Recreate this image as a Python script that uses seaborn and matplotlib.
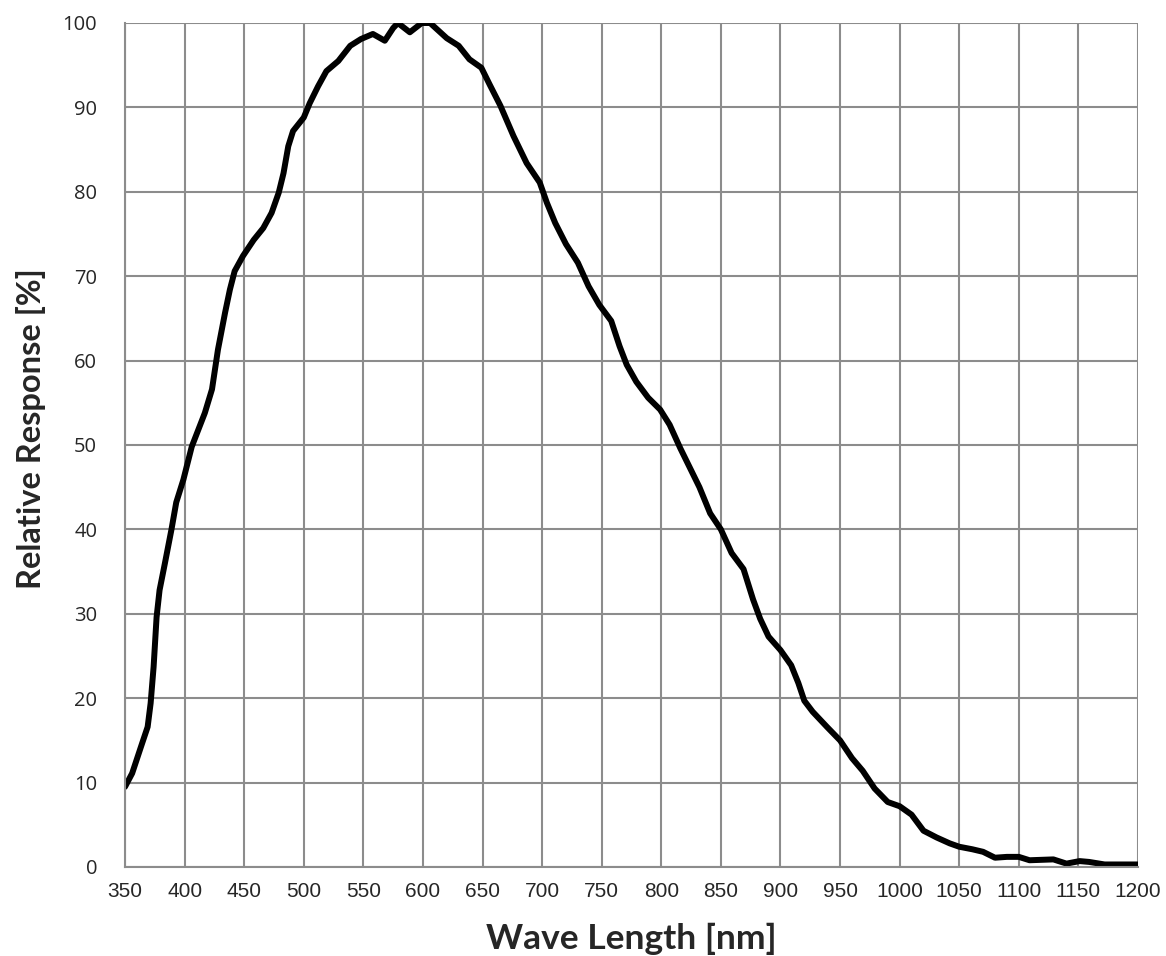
import numpy as np
import pandas as pd
import matplotlib
matplotlib.use("Agg")
import matplotlib.pyplot as plt
import seaborn as sns

wave_length = [350, 356, 364, 369, 371.5, 374, 376.5, 379, 383.5, 389, 393, 399,
               406, 417, 423, 428, 434, 438, 442, 449, 458, 466, 473, 479, 483,
               487, 491, 500, 505, 512, 519, 529, 539, 548, 558, 568, 575, 579,
               589, 599, 606, 620, 630, 639, 649, 656, 665, 676, 687, 698, 704,
               711, 720, 730, 739, 748, 758, 765, 771, 779, 789, 799, 807, 816,
               832, 841, 850, 859, 869, 877, 883, 890, 900, 909, 915, 920, 927,
               939, 950, 960, 969, 979, 990, 1000, 1010, 1020, 1031, 1042, 1050,
               1061, 1070, 1080, 1090, 1100, 1109, 1129, 1140, 1151, 1159, 1172,
               1200]
response = [9.5, 11.1, 14.5, 16.6, 19.4, 23.7, 29.6, 32.8, 36.0, 40.0, 43.2, 45.9,
            49.8, 53.8, 56.6, 61.3, 65.7, 68.4, 70.6, 72.4, 74.3, 75.7, 77.5, 79.9, 82.2,
            85.4, 87.2, 88.8, 90.5, 92.5, 94.3, 95.5, 97.3, 98.1, 98.7, 97.9, 99.4, 100.0,
            98.9, 100.0, 100.0, 98.2, 97.3, 95.7, 94.7, 92.7, 90.2, 86.6, 83.4, 81.1, 78.7,
            76.3, 73.8, 71.6, 68.8, 66.6, 64.7, 61.7, 59.5, 57.5, 55.6, 54.2, 52.4, 49.6,
            45.0, 41.9, 40.0, 37.2, 35.3, 31.7, 29.4, 27.3, 25.7, 23.9, 21.8, 19.7, 18.4,
            16.6, 15.0, 12.9, 11.4, 9.3, 7.7, 7.2, 6.2, 4.3, 3.5, 2.8, 2.4,
            2.1, 1.8, 1.1, 1.2, 1.2, 0.8, 0.9, 0.4, 0.7, 0.6, 0.3,
            0.3]
x_ticks = list(range(350, 1201, 50))
y_ticks = list(range(0, 101, 10))

df = pd.DataFrame({"wl": wave_length, "resp": response})

sns.set_style("white")
plt.rcParams['font.family'] = ['Open Sans', 'DejaVu Sans']

fig = plt.figure(figsize=(11.66, 9.56), dpi=100)
ax = fig.add_axes([125/1166, 1 - 867/956, (1138-125)/1166, (867-23)/956])

sns.lineplot(data=df, x="wl", y="resp", ax=ax, color="black", linewidth=4.3)
ax.lines[0].set_solid_joinstyle("round")

ax.set_xlim(350, 1200)
ax.set_ylim(0, 100)
ax.set_xticks(x_ticks, labels=[str(t) for t in x_ticks], fontsize=15,
              family=['Liberation Sans Narrow', 'Liberation Sans', 'DejaVu Sans'])
ax.set_yticks(y_ticks, labels=[str(t) for t in y_ticks], fontsize=14.5)
ax.grid(True, color="#8c8c8c", linewidth=1.5)
ax.set_axisbelow(True)
for s in ["top", "right"]:
    ax.spines[s].set_visible(False)
for s in ["left", "bottom"]:
    ax.spines[s].set_color("#8c8c8c")
    ax.spines[s].set_linewidth(1.5)

ax.tick_params(axis="x", direction="out", length=5, width=1.5, color="#8c8c8c", pad=6)
ax.tick_params(axis="y", direction="out", length=5, width=1.5, color="#8c8c8c", pad=15)

ax.set_xlabel("Wave Length [nm]", fontsize=25.5, fontweight="bold", family=["Lato", "DejaVu Sans"])
ax.set_ylabel("Relative Response [%]", fontsize=23.5, fontweight="bold", family=["Lato", "DejaVu Sans"])
ax.xaxis.set_label_coords(0.5, -0.066)
ax.yaxis.set_label_coords(-0.078, 0.52)

fig.savefig("out.png", dpi=100)
